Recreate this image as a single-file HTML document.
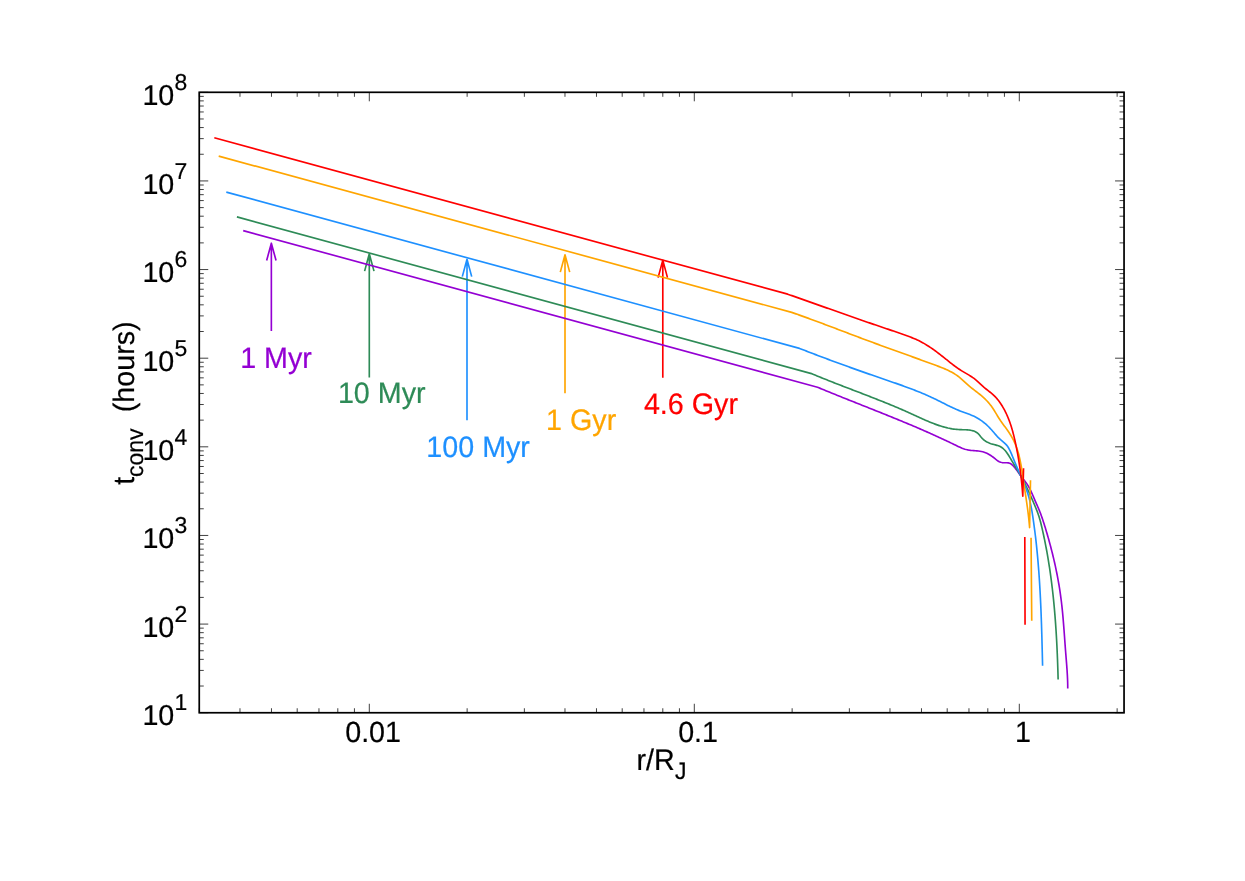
<!DOCTYPE html>
<html><head><meta charset="utf-8"><title>t_conv vs r/R_J</title>
<style>
html,body{margin:0;padding:0;background:#ffffff;}
body{width:1245px;height:881px;overflow:hidden;}
svg{display:block;will-change:transform;}
text{font-family:"Liberation Sans",sans-serif;text-rendering:geometricPrecision;}
</style></head><body>
<svg width="1245" height="881" viewBox="0 0 1245 881">
<rect x="0" y="0" width="1245" height="881" fill="#ffffff"/>
<path d="M199.36 712.75V708.25M199.36 92.30V96.80M239.97 712.75V708.25M239.97 92.30V96.80M271.47 712.75V708.25M271.47 92.30V96.80M297.20 712.75V708.25M297.20 92.30V96.80M318.96 712.75V708.25M318.96 92.30V96.80M337.80 712.75V708.25M337.80 92.30V96.80M354.43 712.75V708.25M354.43 92.30V96.80M369.30 712.75V703.75M369.30 92.30V101.30M467.13 712.75V708.25M467.13 92.30V96.80M524.36 712.75V708.25M524.36 92.30V96.80M564.97 712.75V708.25M564.97 92.30V96.80M596.47 712.75V708.25M596.47 92.30V96.80M622.20 712.75V708.25M622.20 92.30V96.80M643.96 712.75V708.25M643.96 92.30V96.80M662.80 712.75V708.25M662.80 92.30V96.80M679.43 712.75V708.25M679.43 92.30V96.80M694.30 712.75V703.75M694.30 92.30V101.30M792.13 712.75V708.25M792.13 92.30V96.80M849.36 712.75V708.25M849.36 92.30V96.80M889.97 712.75V708.25M889.97 92.30V96.80M921.47 712.75V708.25M921.47 92.30V96.80M947.20 712.75V708.25M947.20 92.30V96.80M968.96 712.75V708.25M968.96 92.30V96.80M987.80 712.75V708.25M987.80 92.30V96.80M1004.43 712.75V708.25M1004.43 92.30V96.80M1019.30 712.75V703.75M1019.30 92.30V101.30M1117.13 712.75V708.25M1117.13 92.30V96.80M199.25 712.71H208.25M1124.05 712.71H1115.05M199.25 686.03H203.75M1124.05 686.03H1119.55M199.25 670.42H203.75M1124.05 670.42H1119.55M199.25 659.35H203.75M1124.05 659.35H1119.55M199.25 650.76H203.75M1124.05 650.76H1119.55M199.25 643.74H203.75M1124.05 643.74H1119.55M199.25 637.81H203.75M1124.05 637.81H1119.55M199.25 632.67H203.75M1124.05 632.67H1119.55M199.25 628.14H203.75M1124.05 628.14H1119.55M199.25 624.08H208.25M1124.05 624.08H1115.05M199.25 597.40H203.75M1124.05 597.40H1119.55M199.25 581.79H203.75M1124.05 581.79H1119.55M199.25 570.72H203.75M1124.05 570.72H1119.55M199.25 562.13H203.75M1124.05 562.13H1119.55M199.25 555.11H203.75M1124.05 555.11H1119.55M199.25 549.18H203.75M1124.05 549.18H1119.55M199.25 544.04H203.75M1124.05 544.04H1119.55M199.25 539.51H203.75M1124.05 539.51H1119.55M199.25 535.45H208.25M1124.05 535.45H1115.05M199.25 508.77H203.75M1124.05 508.77H1119.55M199.25 493.16H203.75M1124.05 493.16H1119.55M199.25 482.09H203.75M1124.05 482.09H1119.55M199.25 473.50H203.75M1124.05 473.50H1119.55M199.25 466.48H203.75M1124.05 466.48H1119.55M199.25 460.55H203.75M1124.05 460.55H1119.55M199.25 455.41H203.75M1124.05 455.41H1119.55M199.25 450.88H203.75M1124.05 450.88H1119.55M199.25 446.82H208.25M1124.05 446.82H1115.05M199.25 420.14H203.75M1124.05 420.14H1119.55M199.25 404.53H203.75M1124.05 404.53H1119.55M199.25 393.46H203.75M1124.05 393.46H1119.55M199.25 384.87H203.75M1124.05 384.87H1119.55M199.25 377.85H203.75M1124.05 377.85H1119.55M199.25 371.92H203.75M1124.05 371.92H1119.55M199.25 366.78H203.75M1124.05 366.78H1119.55M199.25 362.25H203.75M1124.05 362.25H1119.55M199.25 358.19H208.25M1124.05 358.19H1115.05M199.25 331.51H203.75M1124.05 331.51H1119.55M199.25 315.90H203.75M1124.05 315.90H1119.55M199.25 304.83H203.75M1124.05 304.83H1119.55M199.25 296.24H203.75M1124.05 296.24H1119.55M199.25 289.22H203.75M1124.05 289.22H1119.55M199.25 283.29H203.75M1124.05 283.29H1119.55M199.25 278.15H203.75M1124.05 278.15H1119.55M199.25 273.62H203.75M1124.05 273.62H1119.55M199.25 269.56H208.25M1124.05 269.56H1115.05M199.25 242.88H203.75M1124.05 242.88H1119.55M199.25 227.27H203.75M1124.05 227.27H1119.55M199.25 216.20H203.75M1124.05 216.20H1119.55M199.25 207.61H203.75M1124.05 207.61H1119.55M199.25 200.59H203.75M1124.05 200.59H1119.55M199.25 194.66H203.75M1124.05 194.66H1119.55M199.25 189.52H203.75M1124.05 189.52H1119.55M199.25 184.99H203.75M1124.05 184.99H1119.55M199.25 180.93H208.25M1124.05 180.93H1115.05M199.25 154.25H203.75M1124.05 154.25H1119.55M199.25 138.64H203.75M1124.05 138.64H1119.55M199.25 127.57H203.75M1124.05 127.57H1119.55M199.25 118.98H203.75M1124.05 118.98H1119.55M199.25 111.96H203.75M1124.05 111.96H1119.55M199.25 106.03H203.75M1124.05 106.03H1119.55M199.25 100.89H203.75M1124.05 100.89H1119.55M199.25 96.36H203.75M1124.05 96.36H1119.55M199.25 92.30H208.25M1124.05 92.30H1115.05" fill="none" stroke="#000" stroke-width="0.75"/>
<path d="M271.35 331.10L271.35 243.20M266.65 260.50L271.35 243.20L276.05 260.50" fill="none" stroke="#9400d3" stroke-width="1.65" stroke-linejoin="round" stroke-linecap="butt"/>
<path d="M369.30 377.40L369.30 253.80M364.60 271.10L369.30 253.80L374.00 271.10" fill="none" stroke="#2e8b57" stroke-width="1.65" stroke-linejoin="round" stroke-linecap="butt"/>
<path d="M467.00 420.20L467.00 259.30M462.30 276.60L467.00 259.30L471.70 276.60" fill="none" stroke="#1e90ff" stroke-width="1.65" stroke-linejoin="round" stroke-linecap="butt"/>
<path d="M565.00 393.30L565.00 254.80M560.30 272.10L565.00 254.80L569.70 272.10" fill="none" stroke="#ffa500" stroke-width="1.65" stroke-linejoin="round" stroke-linecap="butt"/>
<path d="M662.80 377.80L662.80 260.30M658.10 277.60L662.80 260.30L667.50 277.60" fill="none" stroke="#ff0000" stroke-width="1.65" stroke-linejoin="round" stroke-linecap="butt"/>
<path d="M243.20 230.60L817.50 387.22L818.88 387.79L820.26 388.37L821.64 388.94L823.02 389.51L824.41 390.08L825.79 390.65L827.17 391.22L828.56 391.79L829.94 392.35L831.33 392.92L832.71 393.48L834.10 394.04L835.48 394.60L836.87 395.16L838.26 395.72L839.65 396.28L841.03 396.84L842.42 397.40L843.81 397.95L845.20 398.51L846.59 399.06L847.97 399.62L849.36 400.17L850.75 400.73L852.14 401.28L853.53 401.83L854.92 402.38L856.31 402.94L857.70 403.49L859.09 404.04L860.48 404.59L861.87 405.15L863.26 405.70L864.65 406.25L866.04 406.80L867.43 407.35L868.82 407.90L870.21 408.46L871.60 409.01L872.98 409.56L874.37 410.12L875.76 410.67L877.15 411.22L878.54 411.78L879.93 412.33L881.32 412.89L882.70 413.45L884.09 414.00L885.48 414.56L886.86 415.12L888.25 415.68L889.64 416.24L891.02 416.80L892.41 417.36L893.79 417.93L895.18 418.49L896.56 419.05L897.94 419.62L899.33 420.19L900.71 420.76L902.09 421.33L903.47 421.90L904.85 422.47L906.23 423.05L907.61 423.62L908.99 424.20L910.37 424.78L911.75 425.36L913.12 425.94L914.50 426.53L915.87 427.11L917.25 427.70L918.62 428.29L920.00 428.88L921.37 429.47L922.74 430.07L924.11 430.67L925.48 431.27L926.85 431.87L928.22 432.47L929.58 433.08L930.95 433.69L932.31 434.30L933.68 434.91L935.04 435.53L936.40 436.15L937.76 436.77L939.12 437.39L940.48 438.01L941.84 438.64L943.20 439.27L944.55 439.91L945.91 440.55L947.26 441.18L948.61 441.83L949.96 442.47L951.31 443.12L952.66 443.77L954.00 444.43L955.35 445.09L956.70 445.74L958.05 446.39L959.40 447.02L960.76 447.62L962.14 448.18L963.53 448.70L964.94 449.17L966.37 449.57L967.82 449.91L969.29 450.17L970.79 450.36L972.30 450.51L973.82 450.63L975.35 450.74L976.87 450.86L978.38 451.01L979.87 451.20L981.34 451.46L982.78 451.80L984.18 452.22L985.56 452.73L986.91 453.31L988.23 453.97L989.52 454.70L990.79 455.48L992.02 456.33L993.24 457.24L994.42 458.19L995.60 459.16L996.79 460.09L998.02 460.95L999.30 461.68L1000.66 462.22L1002.12 462.56L1003.64 462.71L1005.20 462.74L1006.76 462.73L1008.25 462.83L1009.64 463.18L1010.89 463.84L1012.03 464.73L1013.09 465.74L1014.09 466.82L1015.05 467.95L1015.96 469.14L1016.85 470.35L1017.72 471.59L1018.58 472.84L1019.44 474.10L1020.32 475.34L1021.21 476.56L1022.14 477.75L1023.08 478.92L1024.03 480.08L1024.96 481.24L1025.86 482.42L1026.73 483.63L1027.55 484.86L1028.32 486.13L1029.05 487.42L1029.75 488.73L1030.42 490.07L1031.06 491.42L1031.69 492.78L1032.29 494.15L1032.89 495.53L1033.48 496.92L1034.06 498.30L1034.65 499.68L1035.25 501.06L1035.85 502.43L1036.45 503.80L1037.06 505.16L1037.66 506.53L1038.25 507.89L1038.84 509.26L1039.40 510.64L1039.95 512.03L1040.49 513.42L1041.01 514.82L1041.52 516.22L1042.01 517.63L1042.50 519.04L1042.98 520.46L1043.44 521.88L1043.90 523.30L1044.35 524.73L1044.80 526.16L1045.24 527.59L1045.67 529.02L1046.10 530.46L1046.53 531.89L1046.95 533.33L1047.37 534.77L1047.78 536.20L1048.19 537.64L1048.60 539.08L1049.00 540.52L1049.40 541.97L1049.79 543.41L1050.18 544.86L1050.57 546.30L1050.95 547.75L1051.32 549.20L1051.69 550.64L1052.06 552.09L1052.42 553.55L1052.78 555.00L1053.13 556.45L1053.48 557.90L1053.82 559.36L1054.16 560.82L1054.49 562.27L1054.82 563.73L1055.14 565.19L1055.46 566.65L1055.77 568.11L1056.08 569.57L1056.38 571.04L1056.67 572.50L1056.97 573.97L1057.25 575.43L1057.53 576.90L1057.81 578.37L1058.08 579.84L1058.34 581.31L1058.60 582.78L1058.85 584.25L1059.10 585.73L1059.34 587.20L1059.58 588.68L1059.81 590.15L1060.03 591.63L1060.25 593.11L1060.46 594.59L1060.66 596.07L1060.86 597.55L1061.06 599.03L1061.24 600.51L1061.43 602.00L1061.60 603.48L1061.77 604.97L1061.94 606.46L1062.09 607.94L1062.25 609.43L1062.40 610.92L1062.55 612.41L1062.69 613.90L1062.82 615.39L1062.96 616.88L1063.09 618.37L1063.22 619.86L1063.34 621.35L1063.46 622.85L1063.58 624.34L1063.70 625.83L1063.81 627.32L1063.93 628.82L1064.04 630.31L1064.15 631.80L1064.26 633.30L1064.37 634.79L1064.48 636.28L1064.59 637.78L1064.69 639.27L1064.80 640.76L1064.91 642.25L1065.02 643.75L1065.13 645.24L1065.24 646.73L1065.35 648.22L1065.47 649.71L1065.59 651.20L1065.70 652.69L1065.82 654.18L1065.94 655.67L1066.06 657.16L1066.18 658.65L1066.30 660.13L1066.42 661.62L1066.54 663.11L1066.65 664.60L1066.77 666.09L1066.87 667.58L1066.98 669.07L1067.08 670.56L1067.17 672.05L1067.26 673.54L1067.35 675.03L1067.42 676.52L1067.49 678.01L1067.56 679.51L1067.61 681.00L1067.66 682.50L1067.69 684.00L1067.72 685.50L1067.73 687.00L1067.74 688.50" fill="none" stroke="#9400d3" stroke-width="1.65" stroke-linejoin="round" stroke-linecap="butt"/>
<path d="M236.90 216.90L811.50 373.60L812.89 374.18L814.28 374.76L815.66 375.33L817.05 375.91L818.44 376.48L819.84 377.05L821.23 377.61L822.62 378.17L824.01 378.74L825.40 379.29L826.80 379.85L828.19 380.41L829.58 380.96L830.98 381.51L832.37 382.06L833.77 382.61L835.16 383.15L836.56 383.70L837.96 384.24L839.35 384.78L840.75 385.33L842.15 385.87L843.54 386.41L844.94 386.95L846.34 387.48L847.73 388.02L849.13 388.56L850.53 389.10L851.92 389.63L853.32 390.17L854.72 390.71L856.12 391.24L857.51 391.78L858.91 392.32L860.31 392.85L861.70 393.39L863.10 393.93L864.49 394.47L865.89 395.01L867.28 395.55L868.68 396.09L870.07 396.63L871.47 397.18L872.86 397.72L874.26 398.27L875.65 398.82L877.04 399.36L878.43 399.92L879.83 400.47L881.22 401.02L882.61 401.58L884.00 402.14L885.39 402.70L886.77 403.26L888.16 403.83L889.55 404.39L890.94 404.97L892.32 405.54L893.71 406.11L895.09 406.69L896.47 407.27L897.86 407.86L899.24 408.45L900.62 409.04L902.00 409.63L903.38 410.23L904.76 410.83L906.13 411.44L907.51 412.05L908.88 412.66L910.26 413.28L911.63 413.90L913.00 414.52L914.37 415.15L915.74 415.78L917.11 416.41L918.48 417.04L919.85 417.67L921.22 418.29L922.60 418.91L923.97 419.53L925.34 420.14L926.72 420.74L928.10 421.33L929.48 421.91L930.87 422.48L932.26 423.04L933.65 423.59L935.05 424.12L936.45 424.63L937.86 425.12L939.27 425.60L940.68 426.05L942.10 426.49L943.53 426.90L944.97 427.29L946.41 427.65L947.85 427.99L949.31 428.30L950.77 428.58L952.24 428.84L953.72 429.06L955.21 429.25L956.70 429.40L958.21 429.52L959.72 429.61L961.25 429.66L962.77 429.70L964.30 429.73L965.82 429.78L967.32 429.87L968.81 430.00L970.28 430.19L971.72 430.47L973.13 430.84L974.48 431.32L975.79 431.95L977.01 432.72L978.16 433.68L979.21 434.81L980.20 436.04L981.19 437.29L982.22 438.45L983.32 439.49L984.47 440.42L985.68 441.24L986.95 441.96L988.26 442.60L989.61 443.16L991.01 443.67L992.44 444.12L993.90 444.53L995.39 444.92L996.87 445.33L998.31 445.78L999.69 446.33L1000.99 447.01L1002.19 447.81L1003.32 448.72L1004.37 449.73L1005.36 450.82L1006.29 451.99L1007.18 453.22L1008.03 454.49L1008.85 455.80L1009.65 457.12L1010.43 458.45L1011.22 459.77L1012.00 461.08L1012.78 462.38L1013.56 463.67L1014.34 464.95L1015.12 466.23L1015.89 467.50L1016.65 468.77L1017.42 470.04L1018.17 471.32L1018.92 472.59L1019.66 473.88L1020.39 475.17L1021.11 476.47L1021.83 477.77L1022.53 479.09L1023.23 480.42L1023.91 481.75L1024.59 483.09L1025.26 484.43L1025.93 485.78L1026.58 487.14L1027.23 488.50L1027.88 489.86L1028.51 491.23L1029.14 492.60L1029.77 493.98L1030.39 495.35L1031.00 496.73L1031.61 498.11L1032.21 499.48L1032.81 500.86L1033.40 502.24L1033.99 503.61L1034.58 504.99L1035.16 506.36L1035.73 507.74L1036.29 509.11L1036.83 510.50L1037.36 511.88L1037.87 513.28L1038.36 514.68L1038.83 516.10L1039.27 517.52L1039.70 518.96L1040.10 520.40L1040.49 521.84L1040.87 523.30L1041.23 524.75L1041.58 526.22L1041.93 527.68L1042.26 529.15L1042.60 530.61L1042.92 532.08L1043.25 533.55L1043.57 535.02L1043.88 536.49L1044.19 537.96L1044.50 539.43L1044.80 540.90L1045.09 542.37L1045.38 543.84L1045.67 545.31L1045.96 546.79L1046.23 548.26L1046.51 549.74L1046.78 551.21L1047.05 552.69L1047.31 554.17L1047.57 555.64L1047.82 557.12L1048.07 558.60L1048.32 560.08L1048.56 561.56L1048.80 563.04L1049.03 564.52L1049.26 566.00L1049.49 567.48L1049.71 568.96L1049.93 570.44L1050.14 571.93L1050.36 573.41L1050.56 574.89L1050.77 576.38L1050.97 577.86L1051.17 579.35L1051.36 580.83L1051.55 582.32L1051.74 583.81L1051.92 585.29L1052.10 586.78L1052.28 588.27L1052.45 589.76L1052.62 591.25L1052.79 592.74L1052.95 594.22L1053.11 595.71L1053.27 597.20L1053.42 598.69L1053.58 600.19L1053.72 601.68L1053.87 603.17L1054.01 604.66L1054.15 606.15L1054.29 607.64L1054.42 609.14L1054.55 610.63L1054.68 612.12L1054.80 613.62L1054.93 615.11L1055.05 616.61L1055.16 618.10L1055.28 619.59L1055.39 621.09L1055.50 622.58L1055.61 624.08L1055.71 625.58L1055.81 627.07L1055.91 628.57L1056.01 630.06L1056.11 631.56L1056.20 633.06L1056.29 634.55L1056.38 636.05L1056.46 637.55L1056.55 639.04L1056.63 640.54L1056.71 642.04L1056.79 643.54L1056.86 645.03L1056.94 646.53L1057.01 648.03L1057.08 649.53L1057.15 651.03L1057.21 652.52L1057.28 654.02L1057.34 655.52L1057.40 657.02L1057.46 658.52L1057.52 660.02L1057.57 661.52L1057.63 663.01L1057.68 664.51L1057.73 666.01L1057.78 667.51L1057.83 669.01L1057.88 670.51L1057.92 672.01L1057.97 673.51L1058.01 675.00L1058.05 676.50L1058.09 678.00L1058.13 679.50" fill="none" stroke="#2e8b57" stroke-width="1.65" stroke-linejoin="round" stroke-linecap="butt"/>
<path d="M226.30 192.10L799.50 348.42L800.90 348.96L802.30 349.51L803.70 350.05L805.10 350.59L806.50 351.13L807.90 351.67L809.30 352.21L810.70 352.75L812.10 353.29L813.50 353.82L814.90 354.36L816.30 354.89L817.70 355.42L819.11 355.95L820.51 356.48L821.91 357.01L823.32 357.54L824.72 358.06L826.13 358.59L827.53 359.11L828.94 359.63L830.34 360.16L831.75 360.68L833.15 361.20L834.56 361.71L835.97 362.23L837.37 362.75L838.78 363.26L840.19 363.78L841.60 364.29L843.00 364.80L844.41 365.31L845.82 365.82L847.23 366.33L848.64 366.84L850.05 367.35L851.46 367.86L852.88 368.36L854.29 368.87L855.70 369.37L857.11 369.87L858.52 370.37L859.94 370.87L861.35 371.37L862.77 371.87L864.18 372.37L865.60 372.87L867.01 373.36L868.43 373.86L869.84 374.35L871.26 374.84L872.68 375.34L874.09 375.83L875.51 376.32L876.93 376.81L878.35 377.30L879.77 377.78L881.19 378.27L882.61 378.76L884.03 379.24L885.45 379.73L886.87 380.22L888.29 380.70L889.71 381.19L891.13 381.68L892.55 382.17L893.97 382.66L895.39 383.15L896.80 383.65L898.22 384.15L899.64 384.65L901.05 385.15L902.46 385.65L903.87 386.16L905.28 386.67L906.69 387.19L908.10 387.71L909.50 388.23L910.91 388.76L912.31 389.30L913.71 389.83L915.10 390.38L916.50 390.93L917.89 391.48L919.28 392.04L920.66 392.61L922.05 393.18L923.43 393.76L924.81 394.35L926.18 394.94L927.55 395.54L928.92 396.15L930.29 396.77L931.65 397.40L933.00 398.03L934.36 398.67L935.71 399.32L937.05 399.98L938.39 400.65L939.73 401.33L941.07 402.00L942.41 402.68L943.75 403.36L945.09 404.04L946.43 404.72L947.77 405.39L949.12 406.05L950.47 406.71L951.82 407.36L953.18 407.99L954.55 408.61L955.92 409.22L957.30 409.81L958.69 410.38L960.09 410.93L961.50 411.46L962.92 411.99L964.34 412.50L965.75 413.01L967.17 413.53L968.58 414.05L969.98 414.59L971.37 415.15L972.74 415.74L974.10 416.36L975.44 417.02L976.75 417.73L978.05 418.47L979.32 419.25L980.56 420.08L981.79 420.94L982.99 421.83L984.16 422.76L985.31 423.72L986.44 424.71L987.54 425.73L988.62 426.78L989.68 427.85L990.71 428.95L991.71 430.06L992.70 431.19L993.67 432.33L994.65 433.47L995.63 434.61L996.62 435.73L997.63 436.83L998.67 437.90L999.74 438.93L1000.86 439.93L1002.00 440.89L1003.15 441.85L1004.29 442.82L1005.37 443.82L1006.39 444.88L1007.32 446.02L1008.15 447.24L1008.90 448.52L1009.59 449.84L1010.24 451.20L1010.87 452.56L1011.47 453.93L1012.06 455.31L1012.63 456.69L1013.20 458.08L1013.76 459.48L1014.32 460.87L1014.88 462.26L1015.45 463.65L1016.03 465.04L1016.62 466.43L1017.22 467.81L1017.82 469.19L1018.43 470.57L1019.04 471.95L1019.65 473.33L1020.26 474.71L1020.87 476.08L1021.47 477.46L1022.08 478.84L1022.67 480.22L1023.26 481.61L1023.85 482.99L1024.42 484.38L1024.98 485.78L1025.52 487.17L1026.06 488.57L1026.57 489.98L1027.07 491.39L1027.55 492.80L1028.01 494.22L1028.45 495.65L1028.86 497.09L1029.25 498.53L1029.63 499.97L1029.98 501.43L1030.31 502.88L1030.63 504.34L1030.94 505.81L1031.22 507.28L1031.50 508.75L1031.76 510.23L1032.02 511.71L1032.26 513.19L1032.49 514.67L1032.72 516.15L1032.95 517.64L1033.17 519.12L1033.38 520.61L1033.60 522.10L1033.81 523.58L1034.01 525.07L1034.21 526.56L1034.41 528.04L1034.61 529.53L1034.80 531.02L1034.98 532.51L1035.17 534.00L1035.35 535.48L1035.53 536.97L1035.70 538.46L1035.87 539.95L1036.04 541.44L1036.21 542.93L1036.37 544.43L1036.53 545.92L1036.68 547.41L1036.83 548.90L1036.98 550.39L1037.13 551.88L1037.27 553.38L1037.41 554.87L1037.55 556.36L1037.69 557.85L1037.82 559.35L1037.95 560.84L1038.08 562.34L1038.20 563.83L1038.32 565.32L1038.44 566.82L1038.56 568.31L1038.68 569.81L1038.79 571.30L1038.90 572.80L1039.00 574.29L1039.11 575.79L1039.21 577.29L1039.31 578.78L1039.41 580.28L1039.51 581.77L1039.60 583.27L1039.69 584.77L1039.78 586.27L1039.87 587.76L1039.95 589.26L1040.04 590.76L1040.12 592.25L1040.20 593.75L1040.28 595.25L1040.35 596.75L1040.43 598.25L1040.50 599.74L1040.57 601.24L1040.64 602.74L1040.71 604.24L1040.78 605.74L1040.84 607.24L1040.91 608.74L1040.97 610.23L1041.03 611.73L1041.09 613.23L1041.15 614.73L1041.20 616.23L1041.26 617.73L1041.31 619.23L1041.36 620.73L1041.42 622.23L1041.47 623.73L1041.52 625.23L1041.56 626.72L1041.61 628.22L1041.66 629.72L1041.70 631.22L1041.75 632.72L1041.79 634.22L1041.84 635.72L1041.88 637.22L1041.92 638.72L1041.96 640.22L1042.00 641.72L1042.04 643.22L1042.08 644.72L1042.12 646.22L1042.16 647.71L1042.20 649.21L1042.23 650.71L1042.27 652.21L1042.31 653.71L1042.34 655.21L1042.38 656.71L1042.41 658.21L1042.45 659.71L1042.48 661.20L1042.52 662.70L1042.55 664.20L1042.59 665.70" fill="none" stroke="#1e90ff" stroke-width="1.65" stroke-linejoin="round" stroke-linecap="butt"/>
<path d="M218.70 156.10L791.70 312.36L793.11 312.85L794.52 313.35L795.94 313.85L797.35 314.34L798.76 314.85L800.17 315.35L801.57 315.85L802.98 316.36L804.39 316.87L805.80 317.38L807.20 317.89L808.61 318.40L810.02 318.91L811.42 319.43L812.83 319.95L814.23 320.46L815.63 320.98L817.04 321.50L818.44 322.02L819.84 322.55L821.25 323.07L822.65 323.60L824.05 324.12L825.45 324.65L826.86 325.17L828.26 325.70L829.66 326.23L831.06 326.76L832.46 327.29L833.86 327.82L835.26 328.35L836.66 328.88L838.06 329.41L839.46 329.94L840.86 330.47L842.26 331.00L843.66 331.53L845.06 332.06L846.46 332.60L847.86 333.13L849.26 333.66L850.66 334.19L852.06 334.72L853.46 335.25L854.86 335.78L856.26 336.31L857.66 336.83L859.06 337.36L860.46 337.89L861.87 338.41L863.27 338.94L864.67 339.46L866.07 339.99L867.47 340.51L868.87 341.03L870.28 341.55L871.68 342.07L873.08 342.59L874.49 343.11L875.89 343.62L877.30 344.14L878.70 344.65L880.10 345.17L881.51 345.68L882.92 346.19L884.32 346.70L885.73 347.21L887.13 347.72L888.54 348.23L889.95 348.74L891.35 349.25L892.76 349.76L894.17 350.26L895.57 350.77L896.98 351.28L898.39 351.78L899.80 352.29L901.20 352.80L902.61 353.30L904.02 353.81L905.43 354.32L906.84 354.82L908.24 355.33L909.65 355.84L911.06 356.34L912.47 356.85L913.88 357.36L915.29 357.87L916.70 358.38L918.11 358.89L919.52 359.40L920.92 359.91L922.33 360.42L923.74 360.93L925.15 361.44L926.56 361.96L927.97 362.47L929.38 362.99L930.79 363.50L932.20 364.02L933.61 364.54L935.01 365.06L936.42 365.58L937.83 366.11L939.23 366.64L940.63 367.18L942.02 367.73L943.41 368.30L944.78 368.88L946.15 369.48L947.50 370.10L948.84 370.74L950.16 371.40L951.47 372.09L952.77 372.81L954.04 373.56L955.29 374.35L956.53 375.16L957.74 376.02L958.92 376.92L960.08 377.85L961.22 378.83L962.34 379.83L963.45 380.85L964.55 381.89L965.66 382.92L966.77 383.95L967.90 384.96L969.04 385.94L970.20 386.90L971.37 387.84L972.56 388.77L973.75 389.69L974.94 390.59L976.13 391.50L977.32 392.41L978.50 393.33L979.66 394.26L980.81 395.20L981.95 396.17L983.06 397.15L984.15 398.15L985.22 399.18L986.27 400.23L987.29 401.30L988.29 402.39L989.25 403.52L990.19 404.67L991.09 405.84L991.96 407.05L992.81 408.28L993.62 409.53L994.42 410.80L995.20 412.09L995.98 413.38L996.75 414.67L997.53 415.97L998.31 417.25L999.11 418.53L999.93 419.79L1000.77 421.04L1001.63 422.26L1002.51 423.48L1003.40 424.68L1004.29 425.89L1005.18 427.08L1006.07 428.28L1006.95 429.49L1007.82 430.71L1008.67 431.94L1009.49 433.19L1010.29 434.45L1011.06 435.73L1011.81 437.03L1012.52 438.34L1013.21 439.67L1013.87 441.01L1014.50 442.37L1015.10 443.74L1015.67 445.11L1016.21 446.50L1016.72 447.90L1017.20 449.31L1017.66 450.73L1018.09 452.15L1018.49 453.59L1018.88 455.03L1019.24 456.48L1019.59 457.93L1019.91 459.39L1020.22 460.86L1020.52 462.33L1020.80 463.80L1021.07 465.28L1021.32 466.76L1021.57 468.25L1021.81 469.73L1022.04 471.22L1022.26 472.71L1022.48 474.20L1022.70 475.69L1022.92 477.18L1023.13 478.67L1023.35 480.16L1023.57 481.64L1023.79 483.12L1024.01 484.61L1024.23 486.09L1024.45 487.57L1024.68 489.04L1024.90 490.52L1025.13 492.00L1025.35 493.47L1025.57 494.95L1025.80 496.42L1026.02 497.89L1026.24 499.37L1026.45 500.84L1026.67 502.32L1026.88 503.79L1027.09 505.27L1027.29 506.74L1027.49 508.22L1027.69 509.70L1027.88 511.18L1028.07 512.66L1028.25 514.15L1028.43 515.63L1028.60 517.12L1028.76 518.61L1028.92 520.10L1029.07 521.59L1029.21 523.09L1029.35 524.59L1029.48 526.09L1029.60 527.60L1030.50 480.30M1031.05 537.70L1031.75 620.70" fill="none" stroke="#ffa500" stroke-width="1.65" stroke-linejoin="round" stroke-linecap="butt"/>
<path d="M214.30 137.80L787.70 294.17L789.11 294.66L790.52 295.16L791.93 295.65L793.34 296.14L794.75 296.64L796.16 297.13L797.57 297.63L798.98 298.12L800.39 298.62L801.80 299.12L803.20 299.61L804.61 300.11L806.02 300.61L807.43 301.11L808.84 301.60L810.25 302.10L811.66 302.60L813.06 303.10L814.47 303.60L815.88 304.10L817.29 304.60L818.70 305.10L820.11 305.60L821.51 306.10L822.92 306.60L824.33 307.10L825.74 307.60L827.15 308.10L828.56 308.59L829.97 309.09L831.37 309.59L832.78 310.09L834.19 310.59L835.60 311.09L837.01 311.59L838.42 312.08L839.83 312.58L841.24 313.08L842.65 313.58L844.06 314.07L845.46 314.57L846.87 315.06L848.28 315.56L849.69 316.05L851.10 316.55L852.51 317.04L853.92 317.53L855.34 318.02L856.75 318.52L858.16 319.01L859.57 319.50L860.98 319.99L862.39 320.47L863.80 320.96L865.21 321.45L866.63 321.93L868.04 322.42L869.45 322.90L870.86 323.39L872.28 323.87L873.69 324.35L875.10 324.83L876.52 325.31L877.93 325.79L879.35 326.27L880.76 326.75L882.17 327.23L883.59 327.71L885.00 328.19L886.42 328.67L887.83 329.15L889.25 329.63L890.66 330.11L892.07 330.60L893.49 331.08L894.90 331.56L896.32 332.05L897.73 332.54L899.14 333.03L900.56 333.52L901.97 334.01L903.38 334.51L904.79 335.01L906.20 335.51L907.61 336.02L909.01 336.54L910.41 337.07L911.80 337.62L913.18 338.18L914.56 338.75L915.93 339.35L917.28 339.97L918.63 340.60L919.96 341.27L921.28 341.96L922.59 342.66L923.89 343.40L925.17 344.15L926.45 344.92L927.72 345.71L928.97 346.52L930.22 347.34L931.46 348.18L932.69 349.03L933.91 349.90L935.13 350.77L936.34 351.66L937.54 352.56L938.73 353.47L939.92 354.38L941.10 355.30L942.28 356.23L943.46 357.16L944.63 358.10L945.79 359.03L946.96 359.97L948.12 360.91L949.29 361.84L950.45 362.77L951.62 363.69L952.80 364.60L953.98 365.51L955.17 366.39L956.38 367.27L957.59 368.13L958.82 368.97L960.06 369.79L961.32 370.59L962.60 371.37L963.89 372.13L965.18 372.88L966.48 373.63L967.77 374.39L969.06 375.16L970.34 375.94L971.59 376.75L972.83 377.58L974.03 378.45L975.21 379.37L976.36 380.32L977.48 381.30L978.59 382.30L979.68 383.32L980.77 384.34L981.87 385.36L982.97 386.36L984.08 387.35L985.22 388.31L986.37 389.25L987.53 390.16L988.70 391.07L989.87 391.98L991.02 392.90L992.16 393.84L993.26 394.82L994.33 395.84L995.37 396.90L996.38 398.01L997.35 399.15L998.29 400.32L999.20 401.52L1000.07 402.74L1000.92 403.99L1001.74 405.26L1002.53 406.54L1003.28 407.84L1004.02 409.15L1004.72 410.47L1005.40 411.80L1006.06 413.15L1006.69 414.50L1007.29 415.86L1007.88 417.23L1008.44 418.61L1008.98 419.99L1009.50 421.39L1010.00 422.79L1010.49 424.20L1010.95 425.61L1011.40 427.03L1011.84 428.46L1012.25 429.89L1012.66 431.33L1013.05 432.77L1013.43 434.22L1013.79 435.66L1014.15 437.12L1014.49 438.57L1014.83 440.03L1015.15 441.49L1015.47 442.95L1015.79 444.41L1016.09 445.88L1016.39 447.34L1016.68 448.81L1016.97 450.28L1017.25 451.75L1017.52 453.22L1017.79 454.69L1018.05 456.16L1018.30 457.63L1018.55 459.11L1018.79 460.58L1019.02 462.06L1019.25 463.54L1019.47 465.01L1019.68 466.49L1019.89 467.97L1020.10 469.45L1020.30 470.93L1020.49 472.42L1020.67 473.90L1020.85 475.38L1021.03 476.87L1021.20 478.35L1021.36 479.84L1021.52 481.32L1021.67 482.81L1021.82 484.29L1021.96 485.78L1022.09 487.27L1022.22 488.76L1022.35 490.24L1022.47 491.73L1022.58 493.22L1022.69 494.71L1022.80 496.20L1023.55 468.20M1024.80 537.00L1025.05 624.80" fill="none" stroke="#ff0000" stroke-width="1.65" stroke-linejoin="round" stroke-linecap="butt"/>
<rect x="199.25" y="92.30" width="924.80" height="620.45" fill="none" stroke="#000" stroke-width="1.72"/>
<text transform="translate(240.20 368.10) scale(1 1.030)" font-size="28.70" fill="#9400d3" stroke="#9400d3" stroke-width="0.20" text-anchor="start">1 Myr</text>
<text transform="translate(337.90 402.70) scale(1 1.030)" font-size="28.70" fill="#2e8b57" stroke="#2e8b57" stroke-width="0.20" text-anchor="start">10 Myr</text>
<text transform="translate(426.30 456.80) scale(1 1.030)" font-size="28.70" fill="#1e90ff" stroke="#1e90ff" stroke-width="0.20" text-anchor="start">100 Myr</text>
<text transform="translate(546.10 430.00) scale(1 1.030)" font-size="28.70" fill="#ffa500" stroke="#ffa500" stroke-width="0.20" text-anchor="start">1 Gyr</text>
<text transform="translate(643.90 413.75) scale(1 1.030)" font-size="28.70" fill="#ff0000" stroke="#ff0000" stroke-width="0.20" text-anchor="start">4.6 Gyr</text>
<text transform="translate(174.30 725.41) scale(1 1.000)" font-size="28.70" fill="#000" stroke="#000" stroke-width="0.20" text-anchor="end">10</text>
<text transform="translate(174.40 710.41) scale(1 1.000)" font-size="22.96" fill="#000" stroke="#000" stroke-width="0.20" text-anchor="start">1</text>
<text transform="translate(174.30 636.78) scale(1 1.000)" font-size="28.70" fill="#000" stroke="#000" stroke-width="0.20" text-anchor="end">10</text>
<text transform="translate(174.40 621.78) scale(1 1.000)" font-size="22.96" fill="#000" stroke="#000" stroke-width="0.20" text-anchor="start">2</text>
<text transform="translate(174.30 548.15) scale(1 1.000)" font-size="28.70" fill="#000" stroke="#000" stroke-width="0.20" text-anchor="end">10</text>
<text transform="translate(174.40 533.15) scale(1 1.000)" font-size="22.96" fill="#000" stroke="#000" stroke-width="0.20" text-anchor="start">3</text>
<text transform="translate(174.30 459.52) scale(1 1.000)" font-size="28.70" fill="#000" stroke="#000" stroke-width="0.20" text-anchor="end">10</text>
<text transform="translate(174.40 444.52) scale(1 1.000)" font-size="22.96" fill="#000" stroke="#000" stroke-width="0.20" text-anchor="start">4</text>
<text transform="translate(174.30 370.89) scale(1 1.000)" font-size="28.70" fill="#000" stroke="#000" stroke-width="0.20" text-anchor="end">10</text>
<text transform="translate(174.40 355.89) scale(1 1.000)" font-size="22.96" fill="#000" stroke="#000" stroke-width="0.20" text-anchor="start">5</text>
<text transform="translate(174.30 282.26) scale(1 1.000)" font-size="28.70" fill="#000" stroke="#000" stroke-width="0.20" text-anchor="end">10</text>
<text transform="translate(174.40 267.26) scale(1 1.000)" font-size="22.96" fill="#000" stroke="#000" stroke-width="0.20" text-anchor="start">6</text>
<text transform="translate(174.30 193.63) scale(1 1.000)" font-size="28.70" fill="#000" stroke="#000" stroke-width="0.20" text-anchor="end">10</text>
<text transform="translate(174.40 178.63) scale(1 1.000)" font-size="22.96" fill="#000" stroke="#000" stroke-width="0.20" text-anchor="start">7</text>
<text transform="translate(174.30 105.00) scale(1 1.000)" font-size="28.70" fill="#000" stroke="#000" stroke-width="0.20" text-anchor="end">10</text>
<text transform="translate(174.40 90.00) scale(1 1.000)" font-size="22.96" fill="#000" stroke="#000" stroke-width="0.20" text-anchor="start">8</text>
<text transform="translate(373.10 742.10) scale(1 1.020)" font-size="28.70" fill="#000" stroke="#000" stroke-width="0.20" text-anchor="middle">0.01</text>
<text transform="translate(698.10 742.10) scale(1 1.020)" font-size="28.70" fill="#000" stroke="#000" stroke-width="0.20" text-anchor="middle">0.1</text>
<text transform="translate(1023.10 742.10) scale(1 1.020)" font-size="28.70" fill="#000" stroke="#000" stroke-width="0.20" text-anchor="middle">1</text>
<text transform="translate(636.50 769.70) scale(1 1.040)" font-size="28.70" fill="#000" stroke="#000" stroke-width="0.20" text-anchor="start">r/R</text>
<text transform="translate(674.90 778.90) scale(1 1.040)" font-size="22.96" fill="#000" stroke="#000" stroke-width="0.20" text-anchor="start">J</text>
<g transform="translate(133.7,484.8) rotate(-90)">
<text transform="translate(0.00 0.00) scale(1 1.030)" font-size="28.70" fill="#000" stroke="#000" stroke-width="0.20" text-anchor="start">t</text>
<text transform="translate(7.90 8.90) scale(1 1.030)" font-size="22.96" fill="#000" stroke="#000" stroke-width="0.20" text-anchor="start">conv</text>
<text transform="translate(72.60 0.00) scale(1 1.030)" font-size="28.70" fill="#000" stroke="#000" stroke-width="0.20" text-anchor="start">(hours)</text>
</g>
</svg>
</body></html>
